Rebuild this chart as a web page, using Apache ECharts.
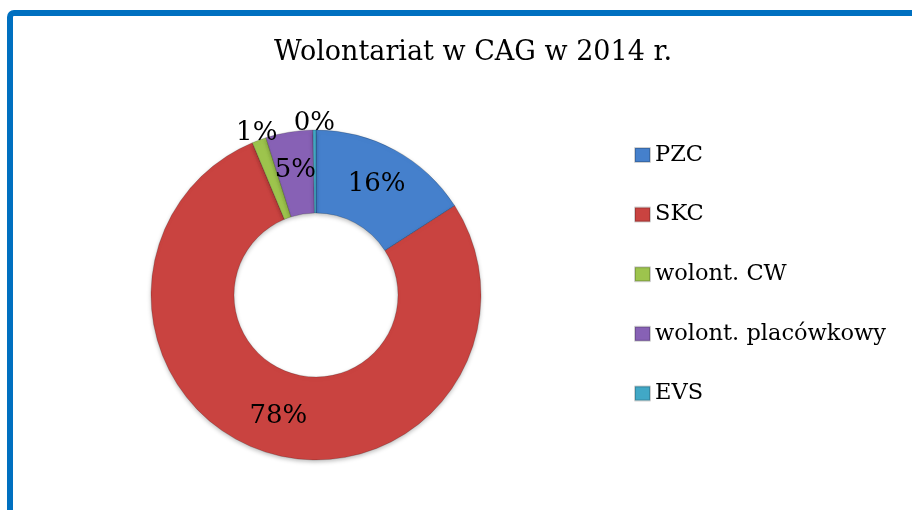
<!DOCTYPE html>
<html>
<head>
<meta charset="utf-8">
<script src="https://cdn.jsdelivr.net/npm/echarts@6/dist/echarts.min.js"></script>
<style>
  html, body { margin: 0; padding: 0; background: #ffffff; }
  #frame {
    position: absolute; left: 7px; top: 10px; width: 1000px; height: 600px;
    border-left: 6px solid #0070c0; border-top: 6px solid #0070c0;
    border-top-left-radius: 7px; pointer-events: none;
  }
  #chart { position: absolute; left: 0; top: 0; width: 912px; height: 510px; }
</style>
</head>
<body>
<div id="chart"></div>
<div id="frame"></div>
<script>
// Chart data
const title = 'Wolontariat w CAG w 2014 r.';
const categories = ['PZC', 'SKC', 'wolont. CW', 'wolont. placówkowy', 'EVS'];
const shares = [15.9, 77.8, 1.4, 4.6, 0.3];
const colors = ['#4580cc', '#c94340', '#9dc44d', '#8761b5', '#41a8c6'];
// slices whose label sits on the outer rim instead of inside the ring
const rimLabels = ['wolont. CW', 'EVS'];

(function() {
    const chart = echarts.init(document.getElementById('chart'), null, { renderer: 'canvas' });
    const serif = '"DejaVu Serif", "Liberation Serif", serif';

    const pctLabel = p => Math.round(p.percent) + '%';

    const ringData = categories.map((name, i) => ({
        name: name,
        value: shares[i],
        itemStyle: { color: colors[i] },
        label: { show: rimLabels.indexOf(name) < 0 }
    }));

    const rimData = categories.map((name, i) => ({
        name: name,
        value: shares[i],
        label: { show: rimLabels.indexOf(name) >= 0 }
    }));

    const option = {
        animation: false,
        backgroundColor: 'transparent',
        title: {
            text: title,
            left: 468,
            top: 34,
            textAlign: 'center',
            textStyle: { fontFamily: serif, fontSize: 27, fontWeight: 'normal', color: '#000' }
        },
        legend: {
            orient: 'vertical',
            left: 629,
            top: 138,
            itemWidth: 15,
            itemHeight: 14,
            itemGap: 35.6,
            icon: 'rect',
            data: categories,
            textStyle: { fontFamily: serif, fontSize: 22.5, lineHeight: 24, color: '#000' }
        },
        series: [
            {
                name: 'ring',
                type: 'pie',
                center: [316, 295],
                radius: [82, 165],
                startAngle: 90,
                clockwise: true,
                minAngle: 1,
                avoidLabelOverlap: false,
                itemStyle: {
                    borderColor: 'rgba(0,0,0,0.18)',
                    borderWidth: 1,
                    shadowBlur: 4,
                    shadowOffsetY: 2,
                    shadowColor: 'rgba(0,0,0,0.25)'
                },
                label: {
                    position: 'inside',
                    formatter: pctLabel,
                    fontFamily: serif,
                    fontSize: 26,
                    color: '#000'
                },
                labelLine: { show: false },
                data: ringData
            },
            {
                name: 'rim',
                type: 'pie',
                silent: true,
                center: [316, 295],
                radius: [150, 188],
                startAngle: 90,
                clockwise: true,
                minAngle: 1,
                avoidLabelOverlap: false,
                legendHoverLink: false,
                itemStyle: { color: 'rgba(0,0,0,0)', borderWidth: 0 },
                label: {
                    position: 'inside',
                    formatter: pctLabel,
                    fontFamily: serif,
                    fontSize: 26,
                    color: '#000'
                },
                labelLine: { show: false },
                data: rimData
            }
        ]
    };

    chart.setOption(option);
})();
</script>
</body>
</html>
